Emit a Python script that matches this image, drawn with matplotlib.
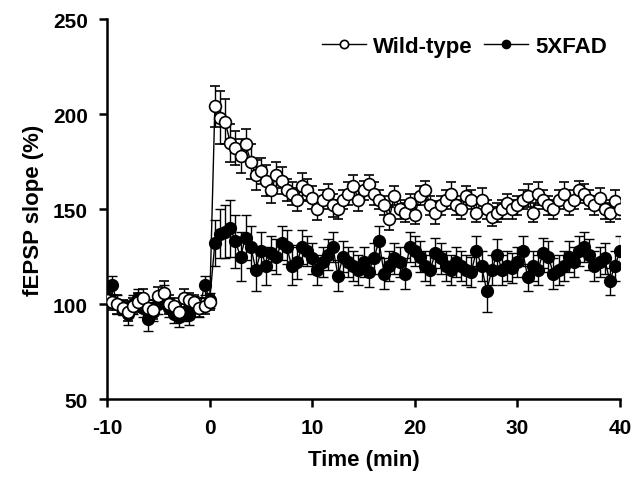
import numpy as np
import matplotlib
matplotlib.use('Agg')
import matplotlib.pyplot as plt

plt.rcParams['font.family'] = ['Liberation Sans', 'DejaVu Sans']
plt.rcParams['font.weight'] = 'bold'
plt.rcParams['axes.unicode_minus'] = False

# time points, every 0.5 min
t = np.arange(-10, 40.01, 0.5)

wt = [102, 101, 100, 98, 96, 99, 101, 103, 98, 97, 104, 106, 100, 99, 96, 103, 102, 101, 98, 99, 101,
      204, 198, 196, 185, 182, 178, 184, 175, 168, 170, 165, 160, 168, 165, 160, 158, 155, 162, 160, 156,
      150, 155, 158, 152, 150, 155, 158, 162, 155, 160, 163, 158, 155, 152, 145, 157, 150, 148, 153, 147,
      157, 160, 152, 148, 152, 155, 158, 152, 150, 157, 155, 148, 155, 150, 146, 148, 150, 153, 150, 152,
      155, 157, 148, 158, 155, 152, 150, 155, 158, 152, 155, 160, 158, 155, 152, 156, 150, 148, 154, 150]
wt_err = [4, 4, 5, 4, 5, 4, 5, 5, 4, 5, 5, 6, 5, 4, 5, 5, 4, 4, 5, 4, 4,
          11, 14, 12, 10, 9, 9, 8, 9, 8, 7, 8, 7, 7, 7, 6, 6, 6, 7, 6, 6,
          6, 5, 5, 6, 5, 5, 6, 6, 6, 5, 5, 6, 5, 5, 6, 5, 5, 5, 5, 5,
          5, 5, 5, 6, 5, 5, 6, 5, 5, 5, 5, 5, 6, 5, 5, 5, 5, 5, 5, 5,
          5, 6, 5, 6, 5, 5, 5, 5, 6, 5, 5, 5, 5, 5, 5, 5, 5, 5, 6, 5]

fad = [103, 110, 100, 98, 95, 100, 103, 98, 92, 96, 100, 104, 98, 95, 93, 96, 94, 100, 98, 110, 102,
       132, 137, 138, 140, 133, 125, 135, 130, 118, 128, 120, 127, 125, 132, 130, 120, 122, 130, 128, 124,
       118, 122, 126, 130, 115, 125, 122, 120, 118, 122, 117, 124, 133, 116, 120, 124, 122, 116, 130, 128,
       125, 120, 118, 127, 124, 120, 118, 122, 120, 118, 117, 128, 120, 107, 118, 126, 118, 120, 119, 122,
       128, 114, 120, 118, 127, 125, 116, 118, 120, 125, 122, 128, 130, 126, 120, 122, 124, 112, 120, 128]
fad_err = [4, 5, 5, 4, 6, 5, 5, 5, 6, 5, 5, 6, 5, 5, 5, 5, 5, 4, 5, 5, 4,
           12, 13, 14, 15, 14, 13, 12, 11, 11, 10, 10, 9, 9, 9, 9, 10, 9, 9, 8, 8,
           8, 8, 8, 8, 8, 8, 8, 8, 8, 8, 8, 8, 8, 8, 8, 8, 8, 8, 8, 8,
           8, 8, 8, 8, 8, 8, 8, 8, 8, 8, 8, 8, 8, 11, 8, 8, 8, 8, 8, 8,
           8, 7, 8, 8, 8, 8, 8, 8, 8, 8, 8, 8, 8, 8, 8, 8, 8, 7, 8, 8]

fig = plt.figure(figsize=(6.34, 4.89), dpi=100)
ax = fig.add_axes([0.169, 0.182, 0.809, 0.777])

ax.errorbar(t, fad, yerr=fad_err, color='k', lw=1, elinewidth=1, capsize=3.5,
            marker='o', ms=8.5, mfc='k', mec='k', label='5XFAD', zorder=2)
ax.errorbar(t, wt, yerr=wt_err, color='k', lw=1, elinewidth=1, capsize=3.5,
            marker='o', ms=8.5, mfc='white', mec='k', mew=1.2, label='Wild-type', zorder=3)

ax.set_xlim(-10, 40)
ax.set_ylim(50, 250)
ax.set_xticks([-10, 0, 10, 20, 30, 40])
ax.set_yticks([50, 100, 150, 200, 250])
ax.spines['top'].set_visible(False)
ax.spines['right'].set_visible(False)
ax.spines['left'].set_linewidth(1.8)
ax.spines['bottom'].set_linewidth(1.8)
ax.tick_params(width=1.8, length=6, labelsize=15, pad=8)
ax.set_xlabel('Time (min)', fontsize=16, fontweight='bold', labelpad=8)
ax.set_ylabel('fEPSP slope (%)', fontsize=16, fontweight='bold', labelpad=6)
for lbl in ax.get_xticklabels() + ax.get_yticklabels():
    lbl.set_fontweight('bold')

h, l = ax.get_legend_handles_labels()
leg = ax.legend([h[1][0], h[0][0]], [l[1], l[0]], loc='upper right', ncol=2, frameon=False,
                fontsize=16, handlelength=2.0, columnspacing=0.5, handletextpad=0.3,
                borderaxespad=0.2, markerscale=0.7, bbox_to_anchor=(1.0, 0.99))

plt.savefig('out.png', dpi=100)
